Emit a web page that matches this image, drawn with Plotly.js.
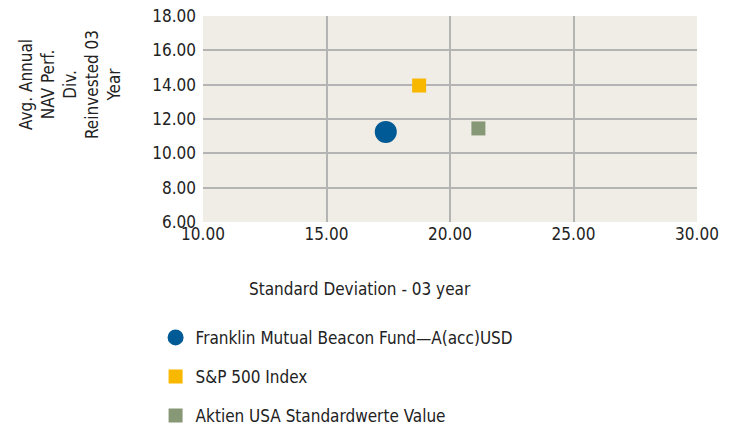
<!DOCTYPE html>
<html>
<head>
<meta charset="utf-8">
<script src="https://cdn.plot.ly/plotly-3.0.1.min.js"></script>
<style>html,body{margin:0;padding:0;background:#fff;}#chart{width:734px;height:426px;}</style>
</head>
<body>
<div id="chart"></div>
<script>
const seriesNames = ["Franklin Mutual Beacon Fund\u2014A(acc)USD", "S&P 500 Index", "Aktien USA Standardwerte Value"];
const stdDev = [17.4, 18.75, 21.15];
const navPerf = [11.25, 13.95, 11.45];
const colors = ["#005A96", "#F9B800", "#879877"];
const symbols = ["circle", "square", "square"];
const sizes = [22, 14, 14];
const xTitle = "Standard Deviation - 03 year";
const yTitle = "Avg. Annual<br>NAV Perf.<br>Div.<br>Reinvested 03<br>Year";

const FONT = "'DejaVu Sans Condensed', 'Liberation Sans Narrow', sans-serif";

const traces = seriesNames.map((n, i) => ({
  type: "scatter", mode: "markers", name: n,
  x: [stdDev[i]], y: [navPerf[i]],
  legendgroup: "g" + i,
  marker: {color: colors[i], symbol: symbols[i], size: sizes[i], line: {width: 0}},
  hoverinfo: "skip"
}));

const layout = {
  width: 734, height: 426,
  margin: {l: 203, r: 37, t: 16, b: 204, autoexpand: false},
  paper_bgcolor: "#ffffff",
  plot_bgcolor: "#F0EDE6",
  font: {family: FONT, size: 17, color: "#222"},
  showlegend: true,
  legend: {
    x: -0.096, xanchor: "left", y: -0.475, yanchor: "top",
    orientation: "v", traceorder: "grouped", tracegroupgap: 14,
    font: {family: FONT, size: 17, color: "#222"},
    bgcolor: "rgba(0,0,0,0)"
  },
  xaxis: {
    range: [10, 30], dtick: 5, tick0: 10, tickformat: ".2f",
    showgrid: true, gridcolor: "#B4B4B4", gridwidth: 2,
    zeroline: false, showline: false, ticks: "",
    tickfont: {family: FONT, size: 17, color: "#222"},
    fixedrange: true
  },
  yaxis: {
    range: [6, 18], dtick: 2, tick0: 6, tickformat: ".2f",
    showgrid: true, gridcolor: "#B4B4B4", gridwidth: 2,
    zeroline: false, showline: false, ticks: "",
    ticklabelstandoff: 6,
    tickfont: {family: FONT, size: 17, color: "#222"},
    fixedrange: true
  },
  annotations: [
    {text: xTitle, xref: "paper", yref: "paper", x: (360 - 203) / 494, y: -(289 - 222) / 206,
     xanchor: "center", yanchor: "middle", showarrow: false,
     font: {family: FONT, size: 17, color: "#222"}},
    {text: yTitle, xref: "paper", yref: "paper", x: (70 - 203) / 494, y: (222 - 85) / 206,
     xanchor: "center", yanchor: "middle", showarrow: false, textangle: -90,
     font: {family: FONT, size: 17, color: "#222"}}
  ]
};

Plotly.newPlot("chart", traces, layout, {displayModeBar: false, staticPlot: true});
</script>
</body>
</html>
